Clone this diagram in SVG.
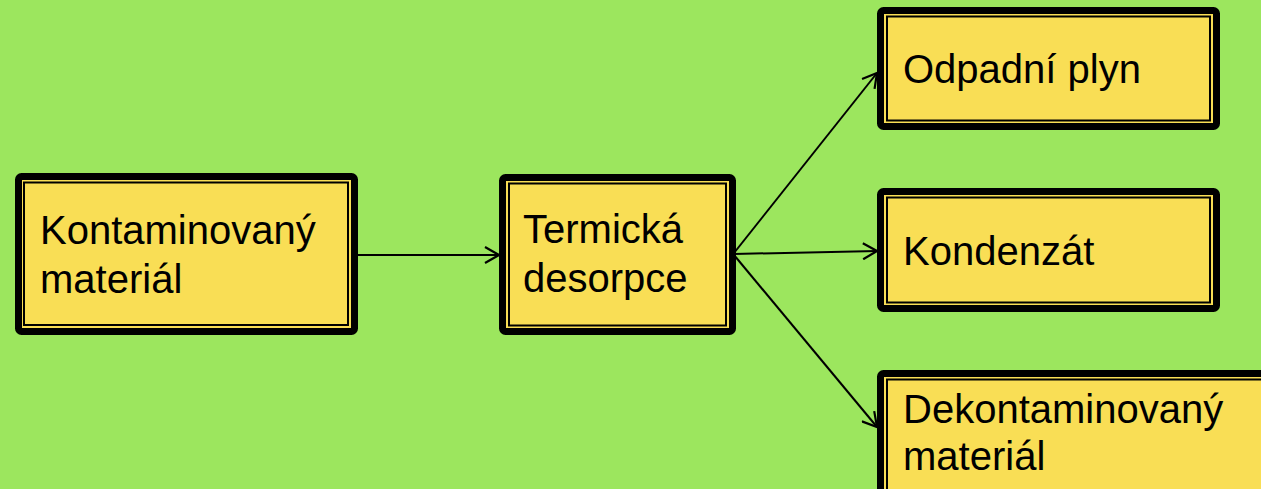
<svg xmlns="http://www.w3.org/2000/svg" width="1261" height="489" viewBox="0 0 1261 489">
  <style>
    .outer { fill: #F9DE55; stroke: #000; stroke-width: 7; }
    .inner { fill: none; stroke: #000; stroke-width: 2; }
    .label { font-family: "Liberation Sans", Arial, sans-serif; font-size: 40px; fill: #000; }
    .conn { stroke: #000; stroke-width: 2; fill: none; }
  </style>
  <defs>
    <marker id="arrow" viewBox="0 0 16 18" refX="15" refY="9" markerWidth="16" markerHeight="18" markerUnits="userSpaceOnUse" orient="auto">
      <path d="M1,1 L15,9 L1,17" fill="none" stroke="#000" stroke-width="2.2"/>
    </marker>
  </defs>
  <rect width="1261" height="489" fill="#9CE65E"/>

  <g id="connectors">
    <line class="conn" x1="358" y1="255" x2="499" y2="255" marker-end="url(#arrow)"/>
    <line class="conn" x1="734" y1="253" x2="877" y2="73" marker-end="url(#arrow)"/>
    <line class="conn" x1="734" y1="254" x2="877" y2="251" marker-end="url(#arrow)"/>
    <line class="conn" x1="734" y1="255" x2="877" y2="427" marker-end="url(#arrow)"/>
  </g>

  <g id="kontaminovany">
    <rect class="outer" x="18.5" y="176.5" width="336" height="155" rx="3"/>
    <rect class="inner" x="24" y="182.5" width="324" height="142.5"/>
    <text class="label" x="40" y="244">Kontaminovaný</text>
    <text class="label" x="40" y="293">materiál</text>
  </g>

  <g id="termicka">
    <rect class="outer" x="502.5" y="177.5" width="230" height="154" rx="3"/>
    <rect class="inner" x="509" y="183.5" width="217" height="142"/>
    <text class="label" x="523" y="243">Termická</text>
    <text class="label" x="523" y="292">desorpce</text>
  </g>

  <g id="odpadni">
    <rect class="outer" x="880.5" y="10.5" width="336" height="116" rx="3"/>
    <rect class="inner" x="887" y="16.5" width="323" height="104"/>
    <text class="label" x="903" y="83">Odpadní plyn</text>
  </g>

  <g id="kondenzat">
    <rect class="outer" x="880.5" y="191.5" width="336" height="117" rx="3"/>
    <rect class="inner" x="887" y="197.5" width="323" height="105"/>
    <text class="label" x="903" y="265">Kondenzát</text>
  </g>

  <g id="dekontaminovany">
    <rect class="outer" x="880.5" y="373.5" width="400" height="150" rx="3"/>
    <rect class="inner" x="887" y="379.5" width="390" height="138"/>
    <text class="label" x="903" y="423">Dekontaminovaný</text>
    <text class="label" x="903" y="470">materiál</text>
  </g>
</svg>
